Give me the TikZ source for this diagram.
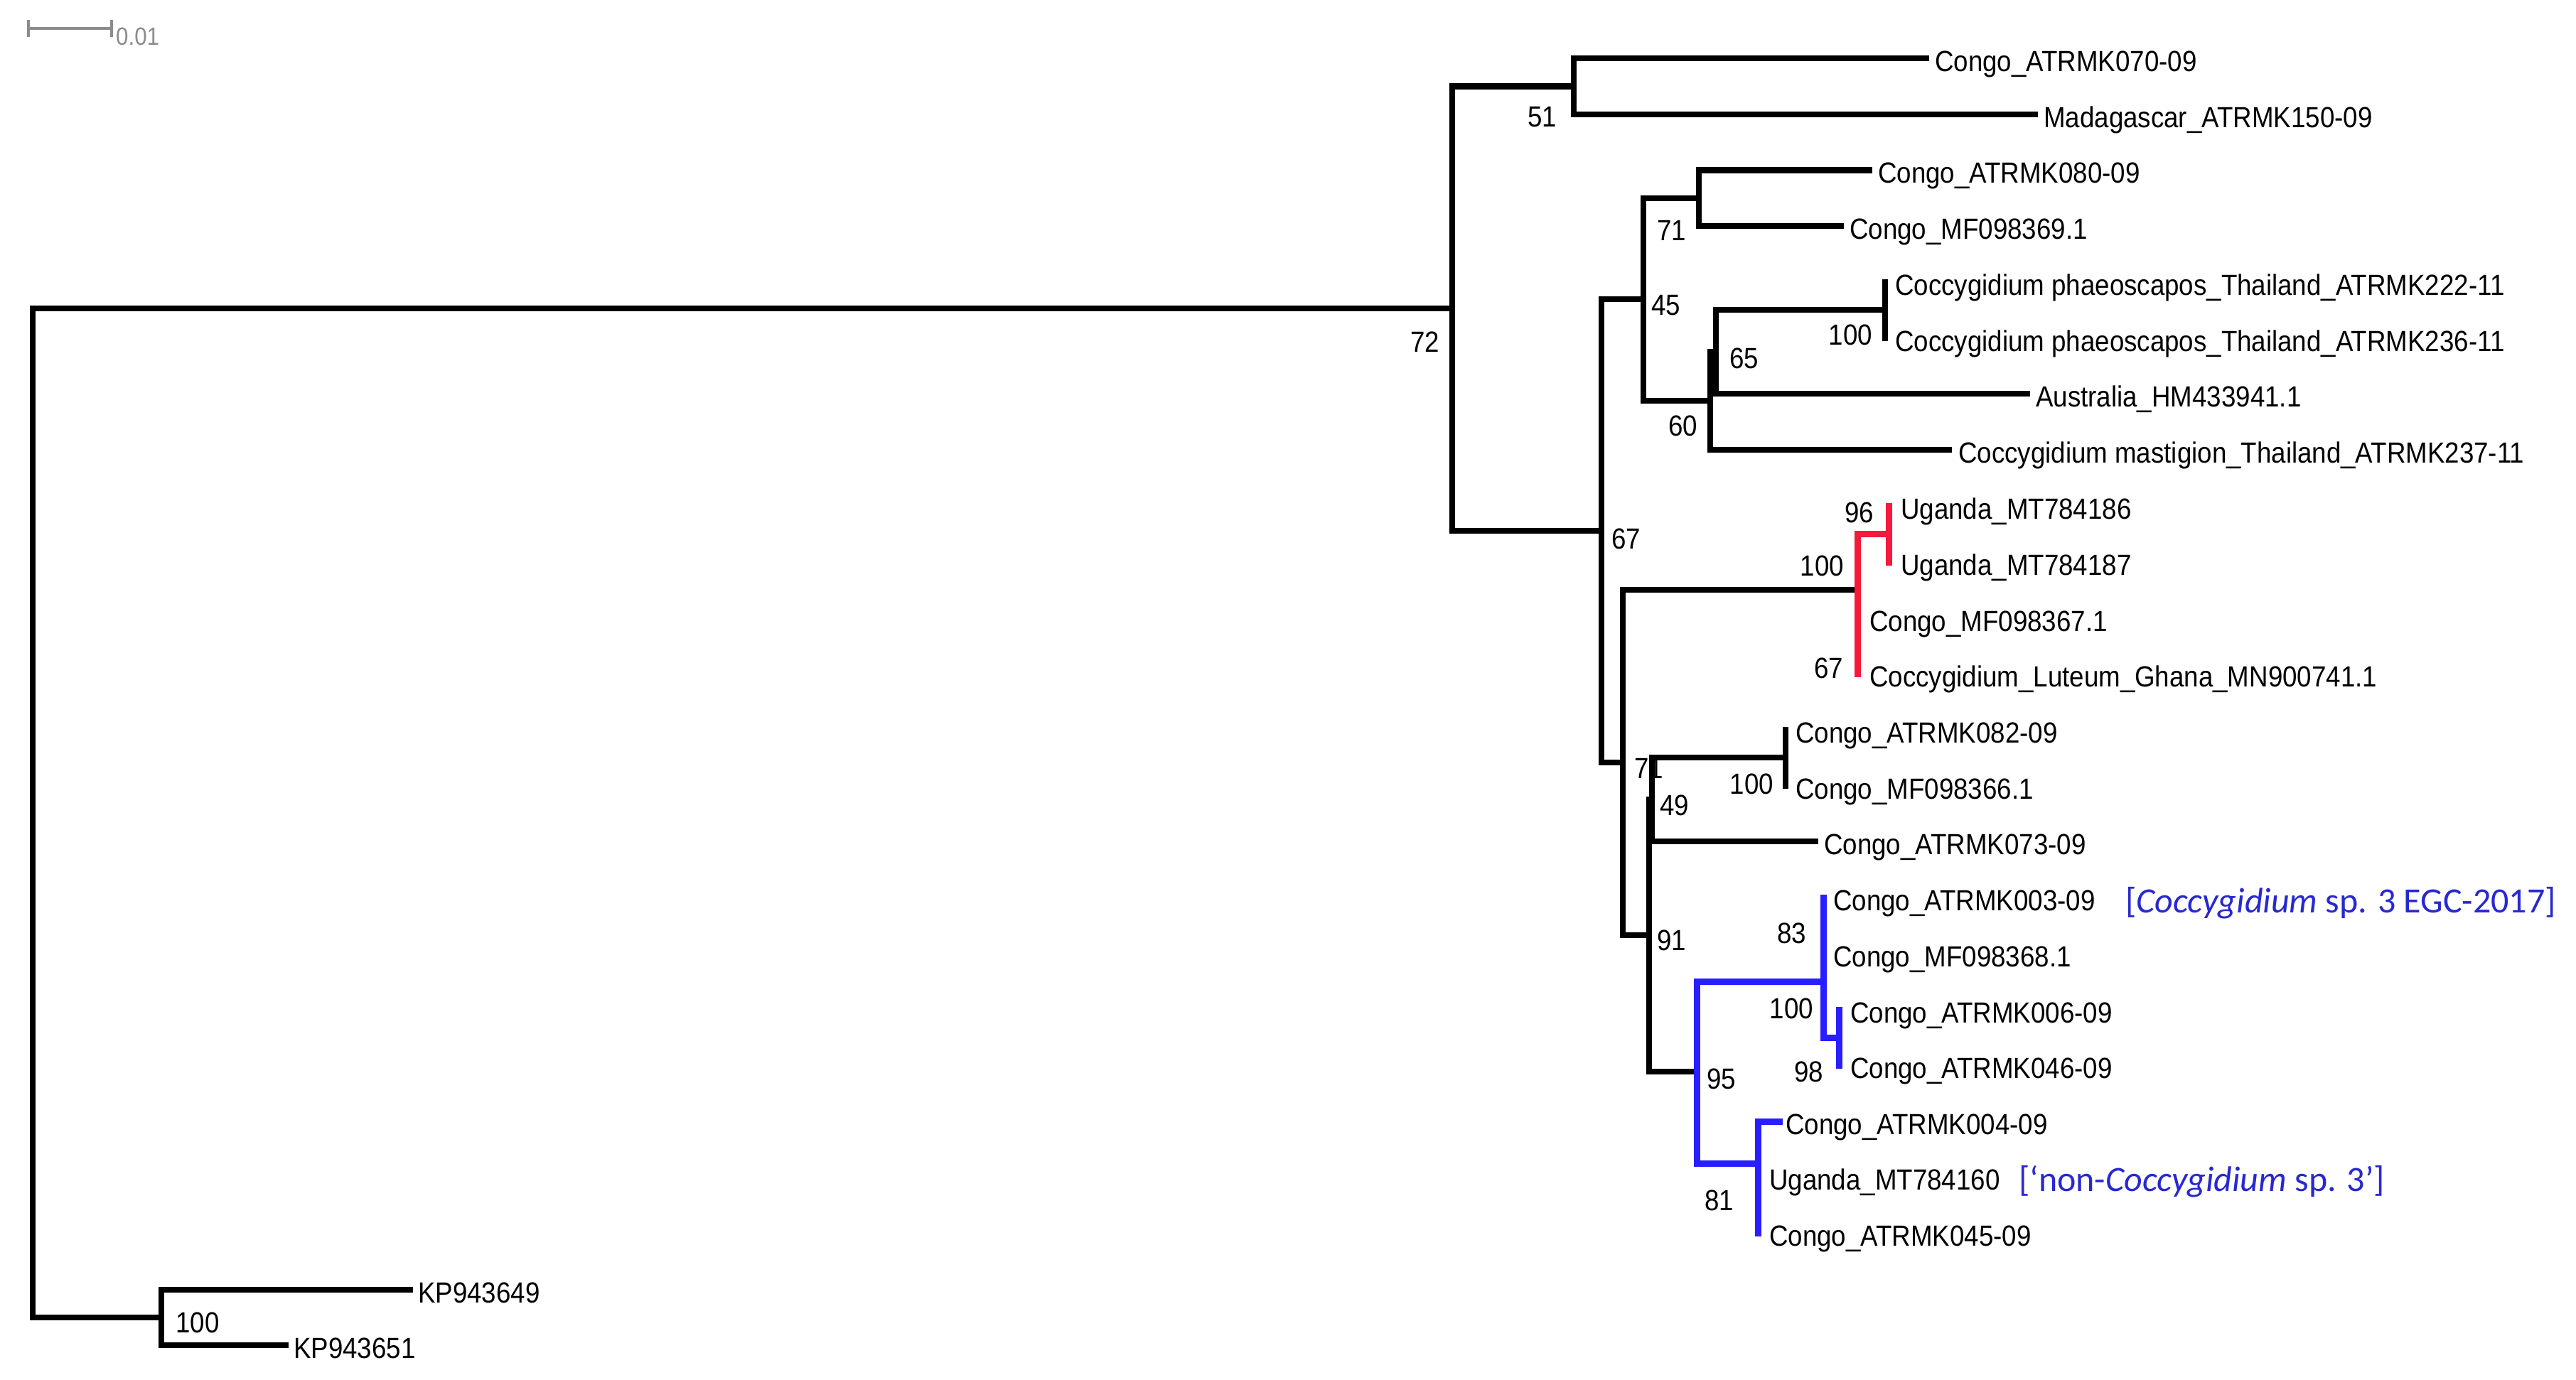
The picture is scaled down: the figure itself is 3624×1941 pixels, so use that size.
\documentclass[tikz,border=0pt]{standalone}
\usepackage{fontspec}
\setmainfont{Liberation Sans}[FakeStretch=0.895]
\newfontfamily\annotfont{Carlito}
\definecolor{cladered}{RGB}{245,25,60}
\definecolor{cladeblue}{RGB}{40,30,255}
\definecolor{annotblue}{RGB}{40,40,210}
\definecolor{scalegray}{RGB}{140,140,140}
\begin{document}
\begin{tikzpicture}[x=1pt,y=-1pt,
  br/.style={line width=8.5pt, line join=miter, line cap=rect, draw=black},
  redbr/.style={br, draw=cladered, line width=9pt},
  bluebr/.style={br, draw=cladeblue, line width=9pt},
  leaf/.style={anchor=base west, inner sep=0pt, font=\fontsize{41}{41}\selectfont},
  supR/.style={anchor=base east, inner sep=0pt, font=\fontsize{41}{41}\selectfont},
  supL/.style={anchor=base west, inner sep=0pt, font=\fontsize{41}{41}\selectfont},
  annot/.style={anchor=base west, inner sep=0pt, text=annotblue, font=\annotfont\fontsize{50}{50}\selectfont}
]
\useasboundingbox (0,0) rectangle (3624,1941);
\fill[white] (0,0) rectangle (3624,1941);

% internal nodes
\coordinate (R0) at (46,1144);
\coordinate (A) at (2043,434);
\coordinate (U) at (227,1854);
\coordinate (B) at (2214,121.5);
\coordinate (C) at (2253,747);
\coordinate (D) at (2312,421);
\coordinate (E) at (2390,279);
\coordinate (F) at (2406,564);
\coordinate (G) at (2414,495);
\coordinate (H) at (2652,436);
\coordinate (I) at (2283,1073);
\coordinate (Rn) at (2613,830);
\coordinate (S) at (2657,751);
\coordinate (T) at (2613,909);
\coordinate (L) at (2320,1316);
\coordinate (J) at (2324,1125);
\coordinate (K) at (2512,1066);
\coordinate (M) at (2387,1508);
\coordinate (N) at (2565,1381);
\coordinate (Ns) at (2565,1302);
\coordinate (P) at (2587,1460);
\coordinate (O) at (2473,1637);
\coordinate (Os) at (2473,1696);

% leaf ends
\coordinate (l1) at (2710,82);
\coordinate (l2) at (2863,161);
\coordinate (l3) at (2630,239.5);
\coordinate (l4) at (2590,318);
\coordinate (l5) at (2652,397);
\coordinate (l6) at (2652,476);
\coordinate (l7) at (2852,554);
\coordinate (l8) at (2742,633);
\coordinate (l9) at (2657,712);
\coordinate (l10) at (2657,791);
\coordinate (l11) at (2613,870);
\coordinate (l12) at (2613,948);
\coordinate (l13) at (2512,1027);
\coordinate (l14) at (2512,1106);
\coordinate (l15) at (2554,1184);
\coordinate (l16) at (2565,1263);
\coordinate (l17) at (2565,1342);
\coordinate (l18) at (2587,1421);
\coordinate (l19) at (2587,1499);
\coordinate (l20) at (2503,1578);
\coordinate (l21) at (2473,1656);
\coordinate (l22) at (2473,1735);
\coordinate (l23) at (577,1815);
\coordinate (l24) at (402,1893);

% leaf labels
\node[leaf] (t1) at ([xshift=12pt,yshift=-18pt]l1) {Congo\_ATRMK070-09};
\node[leaf] (t2) at ([xshift=12pt,yshift=-18pt]l2) {Madagascar\_ATRMK150-09};
\node[leaf] (t3) at ([xshift=12pt,yshift=-18pt]l3) {Congo\_ATRMK080-09};
\node[leaf] (t4) at ([xshift=12pt,yshift=-18pt]l4) {Congo\_MF098369.1};
\node[leaf] (t5) at ([xshift=14pt,yshift=-18pt]l5) {Coccygidium phaeoscapos\_Thailand\_ATRMK222-11};
\node[leaf] (t6) at ([xshift=14pt,yshift=-18pt]l6) {Coccygidium phaeoscapos\_Thailand\_ATRMK236-11};
\node[leaf] (t7) at ([xshift=12pt,yshift=-18pt]l7) {Australia\_HM433941.1};
\node[leaf] (t8) at ([xshift=13pt,yshift=-18pt]l8) {Coccygidium mastigion\_Thailand\_ATRMK237-11};
\node[leaf] (t9) at ([xshift=17pt,yshift=-18pt]l9) {Uganda\_MT784186};
\node[leaf] (t10) at ([xshift=17pt,yshift=-18pt]l10) {Uganda\_MT784187};
\node[leaf] (t11) at ([xshift=17pt,yshift=-18pt]l11) {Congo\_MF098367.1};
\node[leaf] (t12) at ([xshift=17pt,yshift=-18pt]l12) {Coccygidium\_Luteum\_Ghana\_MN900741.1};
\node[leaf] (t13) at ([xshift=14pt,yshift=-18pt]l13) {Congo\_ATRMK082-09};
\node[leaf] (t14) at ([xshift=14pt,yshift=-18pt]l14) {Congo\_MF098366.1};
\node[leaf] (t15) at ([xshift=12pt,yshift=-18pt]l15) {Congo\_ATRMK073-09};
\node[leaf] (t16) at ([xshift=14pt,yshift=-18pt]l16) {Congo\_ATRMK003-09};
\node[leaf] (t17) at ([xshift=14pt,yshift=-18pt]l17) {Congo\_MF098368.1};
\node[leaf] (t18) at ([xshift=16pt,yshift=-18pt]l18) {Congo\_ATRMK006-09};
\node[leaf] (t19) at ([xshift=16pt,yshift=-18pt]l19) {Congo\_ATRMK046-09};
\node[leaf] (t20) at ([xshift=9pt,yshift=-18pt]l20) {Congo\_ATRMK004-09};
\node[leaf] (t21) at ([xshift=16pt,yshift=-18pt]l21) {Uganda\_MT784160};
\node[leaf] (t22) at ([xshift=16pt,yshift=-18pt]l22) {Congo\_ATRMK045-09};
\node[leaf] (t23) at ([xshift=11pt,yshift=-18pt]l23) {KP943649};
\node[leaf] (t24) at ([xshift=11pt,yshift=-18pt]l24) {KP943651};

% group annotations
\node[annot] (g1) at (2990,1284) {[\textit{Coccygidium} sp. 3 EGC-2017]};
\node[annot] (g2) at (2840,1676) {[‘non-\textit{Coccygidium} sp. 3’]};

% support values
\node[supR] (s72) at (2025,495) {72};
\node[supR] (s51) at (2190,178) {51};
\node[supR] (s71a) at (2372,338) {71};
\node[supL] (s45) at (2323,443) {45};
\node[supL] (s65) at (2433,518) {65};
\node[supR] (s60) at (2388,613) {60};
\node[supR] (s100a) at (2634,485) {100};
\node[supL] (s67a) at (2267,772) {67};
\node[supR] (s96) at (2636,735) {96};
\node[supR] (s100b) at (2594,810) {100};
\node[supR] (s67b) at (2593,954) {67};
\node[supL] (s71b) at (2299,1095) {71};
\node[supR] (s100c) at (2495,1117) {100};
\node[supL] (s49) at (2335,1147) {49};
\node[supL] (s91) at (2331,1337) {91};
\node[supR] (s83) at (2541,1327) {83};
\node[supR] (s100d) at (2551,1433) {100};
\node[supL] (s95) at (2401,1532) {95};
\node[supR] (s98) at (2565,1522) {98};
\node[supR] (s81) at (2439,1703) {81};
\node[supL] (s100e) at (247,1875) {100};

% branches
\foreach \p/\c in {R0/A, R0/U, U/l23, U/l24, A/B, A/C, B/l1, B/l2, C/D, C/I,
  D/E, D/F, E/l3, E/l4, F/G, F/l8, G/H, G/l7, H/l5, H/l6, I/Rn, I/L,
  L/J, L/M, J/K, J/l15, K/l13, K/l14}
  \draw[br] (\p) |- (\c);
\foreach \p/\c in {Rn/S, Rn/T, S/l9, S/l10, T/l11, T/l12}
  \draw[redbr] (\p) |- (\c);
\foreach \p/\c in {M/N, M/O, N/Ns, N/P, Ns/l16, Ns/l17, P/l18, P/l19,
  O/l20, O/Os, Os/l21, Os/l22}
  \draw[bluebr] (\p) |- (\c);

% scale bar
\coordinate (sb1) at (40,40);
\coordinate (sb2) at (157,40);
\draw[scalegray, line width=4pt] (sb1) -- (sb2);
\draw[scalegray, line width=4pt] ([yshift=12pt]sb1) -- ([yshift=-12pt]sb1);
\draw[scalegray, line width=4pt] ([yshift=12pt]sb2) -- ([yshift=-12pt]sb2);
\node[anchor=base west, inner sep=0pt, text=scalegray, font=\fontsize{35}{35}\selectfont] (sbt) at (163,63) {0.01};
\end{tikzpicture}
\end{document}
